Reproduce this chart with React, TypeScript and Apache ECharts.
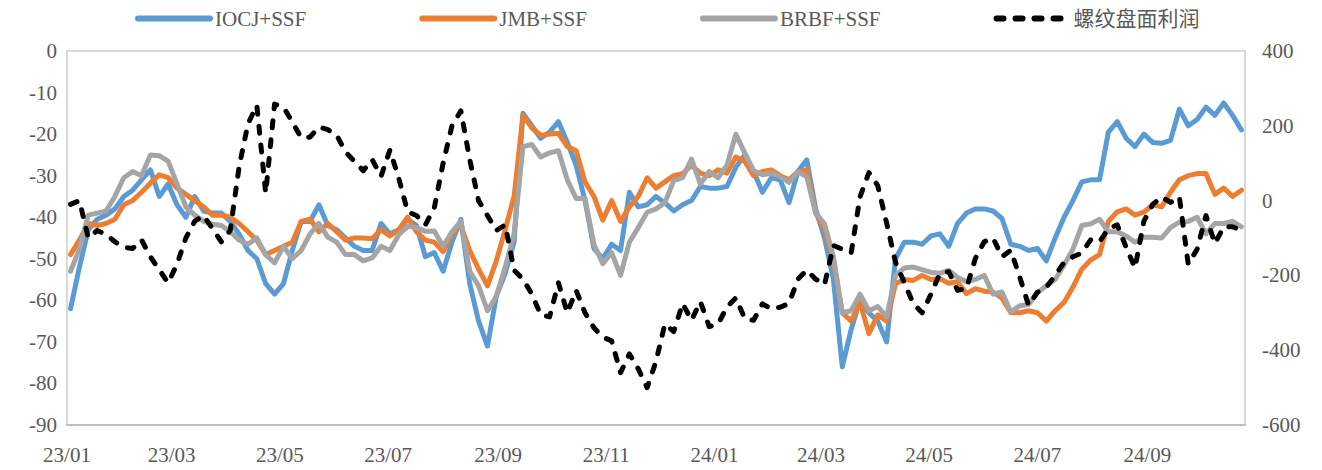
import React, { useEffect, useRef } from 'react';
import * as echarts from 'echarts';

const dates: string[] = [
  '2023-01-03','2023-01-08','2023-01-13','2023-01-18','2023-01-23','2023-01-28',
  '2023-02-02','2023-02-07','2023-02-12','2023-02-17','2023-02-22','2023-02-27',
  '2023-03-04','2023-03-09','2023-03-14','2023-03-19','2023-03-24','2023-03-29',
  '2023-04-03','2023-04-08','2023-04-13','2023-04-18','2023-04-23','2023-04-28',
  '2023-05-03','2023-05-08','2023-05-13','2023-05-18','2023-05-23','2023-05-28',
  '2023-06-02','2023-06-07','2023-06-12','2023-06-17','2023-06-22','2023-06-27',
  '2023-07-02','2023-07-07','2023-07-12','2023-07-17','2023-07-22','2023-07-27',
  '2023-08-01','2023-08-06','2023-08-11','2023-08-16','2023-08-21','2023-08-26','2023-08-31',
  '2023-09-05','2023-09-10','2023-09-15','2023-09-20','2023-09-25','2023-09-30',
  '2023-10-05','2023-10-10','2023-10-15','2023-10-20','2023-10-25','2023-10-30',
  '2023-11-04','2023-11-09','2023-11-14','2023-11-19','2023-11-24','2023-11-29',
  '2023-12-04','2023-12-09','2023-12-14','2023-12-19','2023-12-24','2023-12-29',
  '2024-01-03','2024-01-08','2024-01-13','2024-01-18','2024-01-23','2024-01-28',
  '2024-02-02','2024-02-07','2024-02-12','2024-02-17','2024-02-22','2024-02-27',
  '2024-03-03','2024-03-08','2024-03-13','2024-03-18','2024-03-23','2024-03-28',
  '2024-04-02','2024-04-07','2024-04-12','2024-04-17','2024-04-22','2024-04-27',
  '2024-05-02','2024-05-07','2024-05-12','2024-05-17','2024-05-22','2024-05-27',
  '2024-06-01','2024-06-06','2024-06-11','2024-06-16','2024-06-21','2024-06-26',
  '2024-07-01','2024-07-06','2024-07-11','2024-07-16','2024-07-21','2024-07-26','2024-07-31',
  '2024-08-05','2024-08-10','2024-08-15','2024-08-20','2024-08-25','2024-08-30',
  '2024-09-04','2024-09-09','2024-09-14','2024-09-19','2024-09-24','2024-09-29',
  '2024-10-04','2024-10-09','2024-10-14','2024-10-19','2024-10-24'
];

const iocjSsf: number[] = [
  -62, -52, -43, -40.5, -39.5, -38, -35, -33.5, -31, -28.6,
  -35, -32, -37, -40, -35, -38.5, -39, -39, -41, -44,
  -48, -50, -56, -58.5, -56, -48, -41, -41, -37, -42,
  -43, -45, -47, -48, -48, -41.5, -44, -43, -40.5, -42,
  -49.5, -48.5, -53, -46, -40.5, -56, -65, -71, -59, -53.5,
  -46, -15, -18, -21, -19.5, -17, -22, -27.5, -36, -47.5,
  -50, -46.5, -48, -34, -37.5, -37, -35, -36.5, -38.5, -37,
  -36, -32.6, -33, -33, -32.6, -28, -25, -29, -34, -30.5,
  -31, -36.5, -29, -26.2, -38, -45, -55, -76, -67, -60,
  -63, -65, -70, -50, -46, -46, -46.5, -44.5, -44, -47,
  -41.5, -39, -38, -38, -38.5, -40.3, -46.5, -47, -48, -47.5,
  -50.5, -45, -40, -36, -31.5, -31, -31, -19.5, -17, -21,
  -23, -20, -22, -22.2, -21.5, -14, -18, -16.5, -13.5, -15.5,
  -12.5, -15.5, -19
];

const jmbSsf: number[] = [
  -49, -45.5, -41.5, -42, -41.5, -40.5, -37, -36, -34, -31.8,
  -29.8, -30.5, -33, -34.5, -36, -37.5, -39.5, -39.5, -40, -41.5,
  -43.5, -45.5, -49, -48, -47, -46, -41, -40.5, -43.5, -41.5,
  -43.5, -45.5, -45, -45, -45.2, -43, -44.5, -43, -40, -43.5,
  -45.5, -46, -48.3, -44, -42, -48, -52.5, -56.5, -50.5, -43,
  -35, -15.5, -18.5, -20.3, -20, -19.8, -23, -24, -31.5, -35,
  -40.7, -36, -41, -37.5, -35, -30.5, -33, -31.5, -30, -29.5,
  -27.5, -29.4, -30, -28.6, -29.4, -25.5, -26.5, -30, -29, -28.6,
  -30, -31, -29, -28.6, -39, -43, -50.5, -63, -65, -60.5,
  -68, -63.5, -65, -56, -55, -55.2, -54, -55, -54.8, -55.9,
  -55.5, -58.4, -57.2, -57.8, -58, -59.5, -63, -63, -62.5, -63,
  -65, -62.5, -60.5, -56.8, -52.5, -50.3, -49, -41, -38.7, -38,
  -39.5, -38.8, -37, -37.5, -34, -31, -30, -29.5, -29.5, -34.5,
  -33, -35, -33.5
];

const brbfSsf: number[] = [
  -53, -47.7, -39.5, -39, -38.5, -35, -30.5, -29, -30, -25,
  -25.2, -26.5, -32, -37.5, -39.5, -41, -41.7, -42, -43.5, -45.5,
  -46.5, -45, -49, -51, -47, -50, -48, -44, -41.5, -44.8,
  -46, -49, -49, -50.5, -49.8, -47, -48, -44.2, -42.2, -42.5,
  -43.4, -43.3, -47, -43.5, -41, -53, -56.5, -62.5, -59, -52,
  -44, -23, -22.5, -25.5, -24.5, -24, -31, -35.5, -35.5, -46.5,
  -51.2, -48.5, -54, -46, -42.5, -38.8, -38, -36.5, -31.2, -30.5,
  -26, -32, -29, -30.5, -27.5, -20, -24.5, -28.8, -29.8, -29.4,
  -30.2, -31.6, -29, -30.3, -39, -41.6, -49.5, -63, -62.5, -58.5,
  -62.5, -61.5, -64, -54, -52.2, -52, -52.6, -53.3, -53.5, -52.8,
  -54.5, -55.5, -55, -54, -58.5, -58, -62.8, -61.3, -61, -58.2,
  -56.5, -55, -51.5, -47.7, -42, -41.6, -40.5, -43.5, -43.5, -44.5,
  -46, -44.8, -44.8, -45, -42.5, -41.2, -41, -40, -44, -41.5,
  -41.5, -41, -42.3
];

const rebarProfit: number[] = [
  -10, 0, -100, -80, -90, -110, -125, -128, -105, -150,
  -185, -220, -170, -100, -55, -40, -75, -110, -80, 90,
  205, 255, 20, 258, 250, 210, 168, 170, 197, 190,
  175, 130, 105, 80, 110, 65, 135, 60, -30, -40,
  -65, -20, 100, 200, 240, 110, 0, -40, -80, -65,
  -186, -210, -250, -305, -311, -220, -300, -240, -300, -340,
  -365, -375, -460, -410, -450, -500, -430, -330, -350, -275,
  -320, -270, -337, -330, -284, -260, -315, -320, -276, -290,
  -285, -275, -210, -186, -210, -225, -120, -130, -140, 10,
  75, 40, -60, -165, -220, -275, -300, -250, -195, -190,
  -240, -235, -155, -110, -100, -150, -133, -204, -280, -245,
  -232, -200, -165, -150, -140, -105, -110, -75, -65, -125,
  -180, -55, -10, 10, -5, 10, -170, -130, -40, -115,
  -70, -70, -80
];

const xTickDates: string[] = [
  '2023-01-01','2023-03-01','2023-05-01','2023-07-01','2023-09-01','2023-11-01',
  '2024-01-01','2024-03-01','2024-05-01','2024-07-01','2024-09-01'
];
const xTickLabels: string[] = [
  '23/01','23/03','23/05','23/07','23/09','23/11','24/01','24/03','24/05','24/07','24/09'
];
const axisStart = '2023-01-01';
const axisEnd = '2024-10-26';

const seriesNames = ['IOCJ+SSF', 'JMB+SSF', 'BRBF+SSF', '螺纹盘面利润'];
const seriesColors = ['#5B9BD5', '#ED7D31', '#A5A5A5', '#000000'];

// day number since axisStart (UTC based, no DST issues)
const dayNo = (s: string) => {
  const [y, m, d] = s.split('-').map(Number);
  const [y0, m0, d0] = axisStart.split('-').map(Number);
  return Math.round((Date.UTC(y, m - 1, d) - Date.UTC(y0, m0 - 1, d0)) / 86400000);
};

export default function App() {
  const ref = useRef<HTMLDivElement>(null);
  useEffect(() => {
    if (!ref.current) return;
    const chart = echarts.init(ref.current, null, { renderer: 'svg' });
    const font = "'Times New Roman', 'Liberation Serif', 'Noto Sans CJK SC', serif";
    const labelColor = '#595959';
    const mk = (vals: number[]) => dates.map((d, i) => [dayNo(d), vals[i]]);
    const allValues = [iocjSsf, jmbSsf, brbfSsf, rebarProfit];
    const tickDays = xTickDates.map(dayNo);

    chart.setOption({
      animation: false,
      backgroundColor: '#ffffff',
      grid: {
        left: 67, right: 77, top: 51, bottom: 45,
        show: true, borderColor: '#D9D9D9', borderWidth: 2,
        containLabel: false
      },
      legend: {
        top: 3, left: 130,
        itemWidth: 72, itemHeight: 14, itemGap: 113,
        data: seriesNames,
        itemStyle: { opacity: 0, borderWidth: 0 },
        lineStyle: { width: 6, cap: 'round' },
        textStyle: { fontSize: 21, color: labelColor, fontFamily: font }
      },
      xAxis: {
        type: 'value',
        min: 0,
        max: dayNo(axisEnd),
        axisLine: { show: true, onZero: false, lineStyle: { color: '#BFBFBF', width: 2 } },
        axisTick: { show: false },
        splitLine: { show: false },
        axisLabel: {
          customValues: tickDays,
          formatter: (v: number) => {
            const idx = tickDays.indexOf(Math.round(v));
            return idx >= 0 ? xTickLabels[idx] : '';
          },
          fontSize: 21, color: labelColor, fontFamily: font, margin: 19,
          hideOverlap: false
        }
      },
      yAxis: [
        {
          type: 'value', position: 'left', min: -90, max: 0, interval: 10,
          axisLine: { show: false }, axisTick: { show: false }, splitLine: { show: false },
          axisLabel: { fontSize: 21, color: labelColor, fontFamily: font, margin: 10 }
        },
        {
          type: 'value', position: 'right', min: -600, max: 400, interval: 200,
          axisLine: { show: false }, axisTick: { show: false }, splitLine: { show: false },
          axisLabel: { fontSize: 21, color: labelColor, fontFamily: font, margin: 17 }
        }
      ],
      series: seriesNames.map((name, i) => ({
        name,
        type: 'line',
        yAxisIndex: i === 3 ? 1 : 0,
        data: mk(allValues[i]),
        showSymbol: false,
        symbol: 'none',
        color: seriesColors[i],
        lineStyle: i === 3
          ? { color: '#000000', width: 5, type: [7, 12], cap: 'round', join: 'round' }
          : { color: seriesColors[i], width: 5, cap: 'round', join: 'round' }
      }))
    });
    return () => chart.dispose();
  }, []);
  return (
    <div
      ref={ref}
      style={{ position: 'fixed', left: 0, top: 0, width: 1322, height: 470, background: '#fff' }}
    />
  );
}
